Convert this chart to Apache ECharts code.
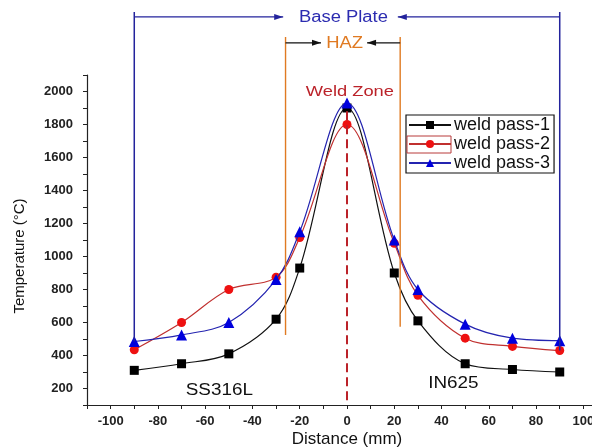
<!DOCTYPE html>
<html>
<head>
<meta charset="utf-8">
<script src="https://cdn.jsdelivr.net/npm/echarts@6/dist/echarts.min.js"></script>
<style>
  html, body { margin: 0; padding: 0; background: #fff; }
  #chart { width: 592px; height: 448px; }
</style>
</head>
<body>
<div id="chart"></div>
<script>
// distances (mm) and temperatures (°C)
const distance = [-90, -70, -50, -30, -20, 0, 20, 30, 50, 70, 90]
const pass1 = [310, 350, 410, 620, 930, 1900, 900, 610, 350, 315, 300]
const pass2 = [435, 600, 800, 875, 1115, 1800, 1080, 765, 505, 455, 430]
const pass3 = [485, 525, 600, 860, 1150, 1930, 1100, 800, 590, 505, 490]
const seriesNames = ['weld pass-1', 'weld pass-2', 'weld pass-3']

const font = "'Liberation Sans', Arial, sans-serif"
const chart = echarts.init(document.getElementById('chart'))

const pairs = vals => distance.map((d, i) => [d, vals[i]])

const option = {
  backgroundColor: '#fff',
  animation: false,
  grid: { left: 87, top: 75, right: -15, bottom: 43, outerBoundsMode: 'none' },
  legend: {
    orient: 'vertical',
    left: 406, top: 115,
    itemWidth: 42, itemHeight: 10, itemGap: 1,
    padding: [1, 4, 1, 2],
    borderColor: '#111', borderWidth: 1.2,
    textStyle: { fontFamily: font, fontSize: 18, color: '#111', padding: [0, 0, 0, -2] },
    data: seriesNames
  },
  xAxis: {
    type: 'value', min: -110, max: 110, interval: 10,
    name: 'Distance (mm)', nameLocation: 'middle', nameGap: 26, nameMoveOverlap: false,
    nameTextStyle: { fontFamily: font, fontSize: 17, color: '#111' },
    axisLine: { onZero: false, lineStyle: { color: '#222', width: 1.2 } },
    axisTick: { length: 4, lineStyle: { color: '#222' } },
    axisLabel: {
      fontFamily: font, fontSize: 13, fontWeight: 'bold', color: '#222', margin: 10,
      formatter: v => (v % 20 === 0 ? String(v) : '')
    },
    splitLine: { show: false }
  },
  yAxis: {
    type: 'value', min: 100, max: 2100, interval: 100,
    axisLine: { show: true, onZero: false, lineStyle: { color: '#222', width: 1.2 } },
    axisTick: { show: true, length: 4, lineStyle: { color: '#222' } },
    axisLabel: {
      fontFamily: font, fontSize: 13, fontWeight: 'bold', color: '#222', margin: 14,
      formatter: v => (v % 200 === 0 ? String(v) : '')
    },
    splitLine: { show: false }
  },
  series: [
    {
      name: seriesNames[0], type: 'line', smooth: 0.35, data: pairs(pass1),
      symbol: 'rect', symbolSize: 9,
      lineStyle: { color: '#111', width: 1.2 },
      itemStyle: { color: '#000' }, z: 3
    },
    {
      name: seriesNames[1], type: 'line', smooth: 0.35, data: pairs(pass2),
      symbol: 'circle', symbolSize: 9,
      lineStyle: { color: '#c0302f', width: 1.2 },
      itemStyle: { color: '#ee1111' }, z: 3
    },
    {
      name: seriesNames[2], type: 'line', smooth: 0.35, data: pairs(pass3),
      symbol: 'triangle', symbolSize: 11,
      lineStyle: { color: '#2424b0', width: 1.2 },
      itemStyle: { color: '#0000dd' }, z: 4
    }
  ]
}
chart.setOption(option)

// annotations placed through the axes' own scales
const px = (x, y) => chart.convertToPixel({ gridIndex: 0 }, [x, y])
const blue = '#23239c'
const orange = '#e07a22'
const weldRed = '#bb2229'
const graphics = []

const line = (a, b, color, width, dash) => graphics.push({
  type: 'line', z: 10,
  shape: { x1: a[0], y1: a[1], x2: b[0], y2: b[1] },
  style: { stroke: color, lineWidth: width || 1.2, lineDash: dash || null }
})
const arrow = (a, b, color) => {
  line(a, b, color, 1.2)
  const dir = Math.sign(b[0] - a[0])
  graphics.push({
    type: 'polygon', z: 10,
    shape: { points: [[b[0], b[1]], [b[0] - dir * 9, b[1] - 3], [b[0] - dir * 9, b[1] + 3]] },
    style: { fill: color }
  })
}
const label = (p, text, color, size, sx, rot) => graphics.push({
  type: 'text', z: 10, x: p[0], y: p[1], scaleX: sx || 1, rotation: rot || 0,
  style: { text, fill: color, font: `${size}px ${font}`, align: 'center', verticalAlign: 'middle' }
})

// Base Plate
line(px(-90, 2482), px(-90, 485), blue, 1.5)
line(px(90, 2482), px(90, 430), blue, 1.5)
arrow(px(-90, 2452), px(-27, 2452), blue)
arrow(px(90, 2452), px(21.5, 2452), blue)
label(px(-1.5, 2445), 'Base Plate', '#2b2bb0', 16, 1.15)

// HAZ
line(px(-26, 2330), px(-26, 525), orange, 1.4)
line(px(22.5, 2330), px(22.5, 575), orange, 1.4)
arrow(px(-26, 2295), px(-11, 2295), '#111')
arrow(px(22.5, 2295), px(8.5, 2295), '#111')
label(px(-1, 2290), 'HAZ', orange, 16, 1.15)

// Weld zone
line(px(0, 1880), px(0, 100), weldRed, 2, [9, 5])
label(px(1.2, 2000), 'Weld Zone', weldRed, 15, 1.22)

// materials
label(px(-54, 190), 'SS316L', '#111', 16, 1.18)
label(px(45, 230), 'IN625', '#111', 16, 1.18)

// y axis title
label([20, 256], 'Temperature (°C)', '#111', 15, 1, Math.PI / 2)

// selection frame around the second legend sample, as in the source figure
graphics.push({
  type: 'rect', z: 20,
  shape: { x: 407, y: 136, width: 44, height: 17 },
  style: { fill: null, stroke: '#b83a3a', lineWidth: 1 }
})

chart.setOption({ graphic: graphics })
</script>
</body>
</html>
